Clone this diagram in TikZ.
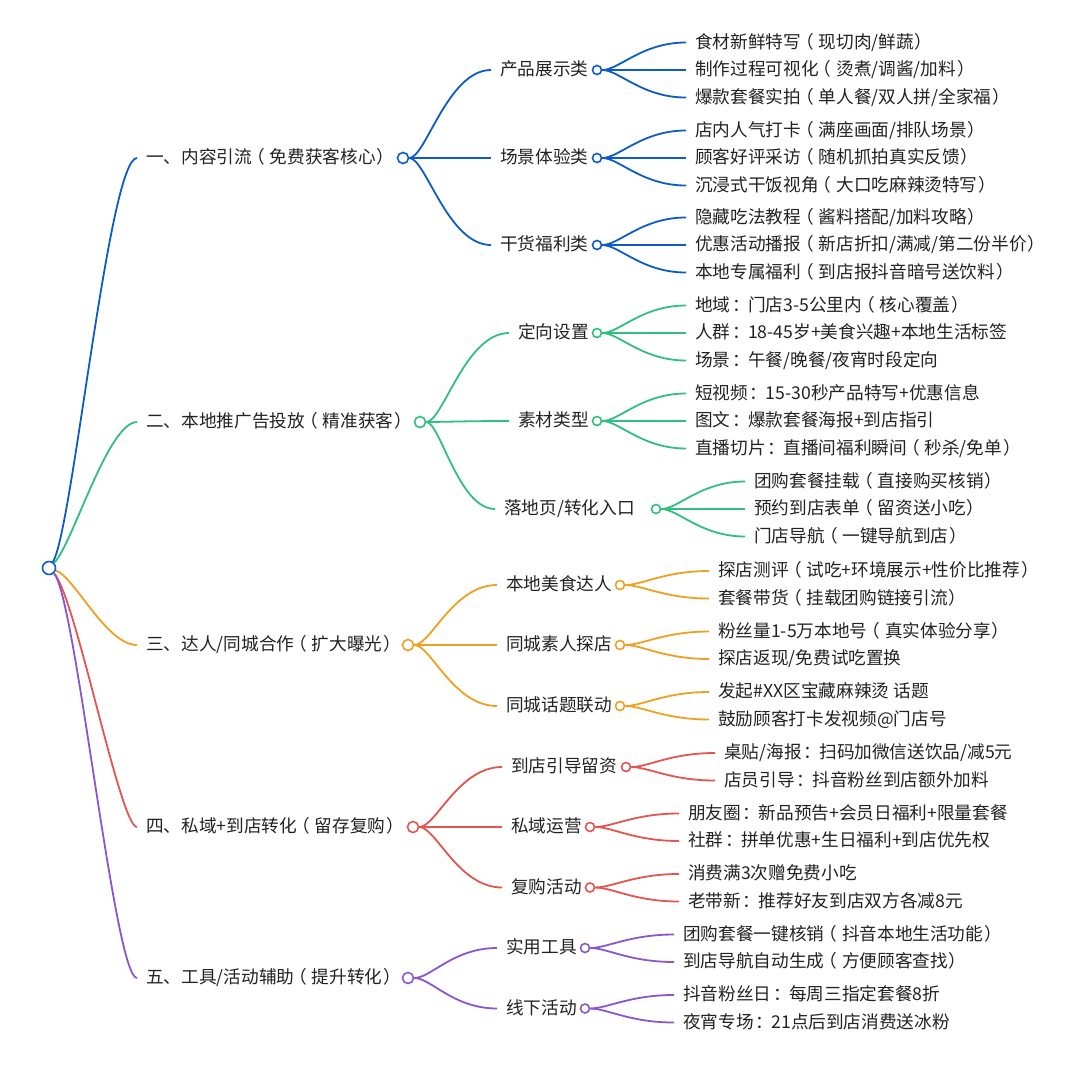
\documentclass[tikz,border=0pt]{standalone}
\usepackage{fontspec}
\usetikzlibrary{calc}
\setmainfont{Noto Sans CJK SC}
\catcode`（=13 \def（{\kern-.27em\char"FF08\kern.27em}
\catcode`）=13 \def）{\kern.05em\char"FF09\kern-.05em}
\catcode`：=13 \def：{\kern.1em\char"FF1A\kern-.1em}
\definecolor{cblue}{HTML}{0B5CC9}
\definecolor{cgreen}{HTML}{2FBF7F}
\definecolor{corange}{HTML}{F0A01E}
\definecolor{cred}{HTML}{E5544F}
\definecolor{cpurple}{HTML}{8B55D0}
\definecolor{ctext}{HTML}{222222}
\tikzset{
  item/.style={anchor=west,inner xsep=9pt,inner ysep=0pt,text height=15pt,text depth=4pt,text=ctext,font=\fontsize{17.65}{21}\selectfont},
  dot/.style={circle,draw,fill=white,line width=1.6pt,inner sep=0pt,minimum size=9pt},
  dotb/.style={dot,minimum size=11pt},
  branch/.style n args={3}{line width=1.8pt,to path={let \p1=(\tikztostart.east),\p2=(\tikztotarget.west) in .. controls (\x1+#1*\x2-#1*\x1,\y1+#2*\y2-#2*\y1) and (\x1+#3*\x2-#3*\x1,\y2) .. (\tikztotarget.west)}},
  leaf/.style={branch={.2}{0}{.47}}
}
\begin{document}
\begin{tikzpicture}[x=1pt,y=-1pt]
\useasboundingbox (0,0) rectangle (1080,1080);
\node[dot,draw=cblue,minimum size=13pt](0) at (49,568) {};

\node[item](t1) at (137,158) {一、内容引流（免费获客核心）}; \node[dotb,draw=cblue](c1) at (403,158) {};
\node[item](t2) at (137,422) {二、本地推广告投放（精准获客）}; \node[dotb,draw=cgreen](c2) at (420,422) {};
\node[item](t3) at (137,645) {三、达人/同城合作（扩大曝光）}; \node[dotb,draw=corange](c3) at (408,645) {};
\node[item](t4) at (137,827) {四、私域+到店转化（留存复购）}; \node[dotb,draw=cred](c4) at (413,827) {};
\node[item](t5) at (137,978) {五、工具/活动辅助（提升转化）}; \node[dotb,draw=cpurple](c5) at (408,978) {};

\node[item](t11) at (491,70) {产品展示类}; \node[dot,draw=cblue](c11) at (597,70) {};
\node[item](t12) at (491,158) {场景体验类}; \node[dot,draw=cblue](c12) at (597,158) {};
\node[item](t13) at (491,245) {干货福利类}; \node[dot,draw=cblue](c13) at (597,245) {};
\node[item](t21) at (509,333) {定向设置}; \node[dot,draw=cgreen](c21) at (597,333) {};
\node[item](t22) at (509,421) {素材类型}; \node[dot,draw=cgreen](c22) at (597,421) {};
\node[item](t23) at (495,509) {落地页/转化入口}; \node[dot,draw=cgreen](c23) at (656,509) {};
\node[item](t31) at (497,585) {本地美食达人}; \node[dot,draw=corange](c31) at (620,585) {};
\node[item](t32) at (497,645) {同城素人探店}; \node[dot,draw=corange](c32) at (620,645) {};
\node[item](t33) at (497,706) {同城话题联动}; \node[dot,draw=corange](c33) at (620,706) {};
\node[item](t41) at (502,767) {到店引导留资}; \node[dot,draw=cred](c41) at (626,767) {};
\node[item](t42) at (502,827) {私域运营}; \node[dot,draw=cred](c42) at (590,827) {};
\node[item](t43) at (502,887.5) {复购活动}; \node[dot,draw=cred](c43) at (590,887.5) {};
\node[item](t51) at (497,948) {实用工具}; \node[dot,draw=cpurple](c51) at (585,948) {};
\node[item](t52) at (497,1008.5) {线下活动}; \node[dot,draw=cpurple](c52) at (585,1008.5) {};

\node[item](t111) at (686,42.5) {食材新鲜特写（现切肉/鲜蔬）};
\node[item](t112) at (686,70) {制作过程可视化（烫煮/调酱/加料）};
\node[item](t113) at (686,97.5) {爆款套餐实拍（单人餐/双人拼/全家福）};
\node[item](t121) at (686,130.5) {店内人气打卡（满座画面/排队场景）};
\node[item](t122) at (686,158) {顾客好评采访（随机抓拍真实反馈）};
\node[item](t123) at (686,185.5) {沉浸式干饭视角（大口吃麻辣烫特写）};
\node[item](t131) at (686,217.5) {隐藏吃法教程（酱料搭配/加料攻略）};
\node[item](t132) at (686,245) {优惠活动播报（新店折扣/满减/第二份半价）};
\node[item](t133) at (686,272.5) {本地专属福利（到店报抖音暗号送饮料）};
\node[item](t211) at (686,305.5) {地域：门店3-5公里内（核心覆盖）};
\node[item](t212) at (686,333) {人群：18-45岁+美食兴趣+本地生活标签};
\node[item](t213) at (686,360.5) {场景：午餐/晚餐/夜宵时段定向};
\node[item](t221) at (686,393.5) {短视频：15-30秒产品特写+优惠信息};
\node[item](t222) at (686,421) {图文：爆款套餐海报+到店指引};
\node[item](t223) at (686,448.5) {直播切片：直播间福利瞬间（秒杀/免单）};
\node[item](t231) at (745,481.5) {团购套餐挂载（直接购买核销）};
\node[item](t232) at (745,509) {预约到店表单（留资送小吃）};
\node[item](t233) at (745,536.5) {门店导航（一键导航到店）};
\node[item](t311) at (709,571) {探店测评（试吃+环境展示+性价比推荐）};
\node[item](t312) at (709,598.5) {套餐带货（挂载团购链接引流）};
\node[item](t321) at (709,631.5) {粉丝量1-5万本地号（真实体验分享）};
\node[item](t322) at (709,659) {探店返现/免费试吃置换};
\node[item](t331) at (709,692) {发起\#XX区宝藏麻辣烫 话题};
\node[item](t332) at (709,719.5) {鼓励顾客打卡发视频@门店号};
\node[item](t411) at (715,753) {桌贴/海报：扫码加微信送饮品/减5元};
\node[item](t412) at (715,780.5) {店员引导：抖音粉丝到店额外加料};
\node[item](t421) at (679,813.5) {朋友圈：新品预告+会员日福利+限量套餐};
\node[item](t422) at (679,841) {社群：拼单优惠+生日福利+到店优先权};
\node[item](t431) at (679,874) {消费满3次赠免费小吃};
\node[item](t432) at (679,901.5) {老带新：推荐好友到店双方各减8元};
\node[item](t511) at (674,934.5) {团购套餐一键核销（抖音本地生活功能）};
\node[item](t512) at (674,962) {到店导航自动生成（方便顾客查找）};
\node[item](t521) at (674,995) {抖音粉丝日：每周三指定套餐8折};
\node[item](t522) at (674,1022.5) {夜宵专场：21点后到店消费送冰粉};

\path (0) edge[branch={.2}{.09}{.65},cblue] (t1);
\path (0) edge[branch={.2}{.16}{.64},cgreen] (t2);
\path (0) edge[branch={.23}{.12}{.62},corange] (t3);
\path (0) edge[branch={.24}{.11}{.79},cred] (t4);
\path (0) edge[branch={.24}{.07}{.72},cpurple] (t5);

\path (c1) edge[leaf,cblue] (t11) edge[leaf,cblue] (t12) edge[leaf,cblue] (t13);
\path (c11) edge[leaf,cblue] (t111) edge[leaf,cblue] (t112) edge[leaf,cblue] (t113);
\path (c12) edge[leaf,cblue] (t121) edge[leaf,cblue] (t122) edge[leaf,cblue] (t123);
\path (c13) edge[leaf,cblue] (t131) edge[leaf,cblue] (t132) edge[leaf,cblue] (t133);

\path (c2) edge[leaf,cgreen] (t21) edge[leaf,cgreen] (t22) edge[leaf,cgreen] (t23);
\path (c21) edge[leaf,cgreen] (t211) edge[leaf,cgreen] (t212) edge[leaf,cgreen] (t213);
\path (c22) edge[leaf,cgreen] (t221) edge[leaf,cgreen] (t222) edge[leaf,cgreen] (t223);
\path (c23) edge[leaf,cgreen] (t231) edge[leaf,cgreen] (t232) edge[leaf,cgreen] (t233);

\path (c3) edge[leaf,corange] (t31) edge[leaf,corange] (t32) edge[leaf,corange] (t33);
\path (c31) edge[leaf,corange] (t311) edge[leaf,corange] (t312);
\path (c32) edge[leaf,corange] (t321) edge[leaf,corange] (t322);
\path (c33) edge[leaf,corange] (t331) edge[leaf,corange] (t332);

\path (c4) edge[leaf,cred] (t41) edge[leaf,cred] (t42) edge[leaf,cred] (t43);
\path (c41) edge[leaf,cred] (t411) edge[leaf,cred] (t412);
\path (c42) edge[leaf,cred] (t421) edge[leaf,cred] (t422);
\path (c43) edge[leaf,cred] (t431) edge[leaf,cred] (t432);

\path (c5) edge[leaf,cpurple] (t51) edge[leaf,cpurple] (t52);
\path (c51) edge[leaf,cpurple] (t511) edge[leaf,cpurple] (t512);
\path (c52) edge[leaf,cpurple] (t521) edge[leaf,cpurple] (t522);
\end{tikzpicture}
\end{document}
